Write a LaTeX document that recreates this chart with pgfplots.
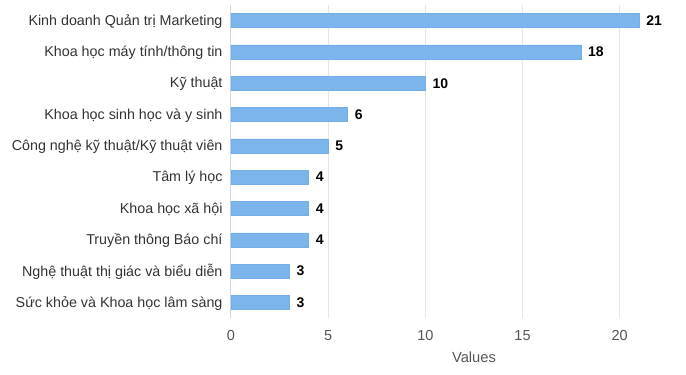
\documentclass[border=0pt]{standalone}
\usepackage{pgfplots}
\pgfplotsset{compat=1.18}
\usepackage{fontspec}
\setmainfont{Liberation Sans}
\definecolor{barfill}{HTML}{7CB5EC}
\definecolor{baredge}{HTML}{74AEE8}
\definecolor{gridc}{HTML}{E6E6E6}
\definecolor{axisc}{HTML}{CCD6EB}
\definecolor{labc}{HTML}{333333}
\definecolor{tickc}{HTML}{555555}
\begin{document}
\begin{tikzpicture}[x=1pt,y=1pt]
\path (0,0) rectangle (686,375);
\begin{axis}[
  at={(231pt,57pt)}, anchor=south west,
  scale only axis, width=447pt, height=313pt,
  xmin=0, xmax=23, ymin=-0.5, ymax=9.5, y dir=reverse,
  xbar, bar width=14pt,
  xtick={0,5,10,15,20},
  ytick={0,...,9},
  yticklabels={Kinh doanh Quản trị Marketing, Khoa học máy tính/thông tin, Kỹ thuật, Khoa học sinh học và y sinh, Công nghệ kỹ thuật/Kỹ thuật viên, Tâm lý học, Khoa học xã hội, Truyền thông Báo chí, Nghệ thuật thị giác và biểu diễn, Sức khỏe và Khoa học lâm sàng},
  axis y line*=left, axis x line*=bottom,
  x axis line style={draw=none},
  y axis line style={draw=axisc, line width=1pt, -},
  major tick length=0pt,
  xmajorgrids, grid style={gridc, line width=1pt},
  /pgf/number format/assume math mode=true,
  xticklabel style={font=\fontsize{14.5}{16}\selectfont, text=tickc, yshift=-9pt},
  yticklabel style={font=\fontsize{14.3}{17}\selectfont, text=labc, xshift=-5pt, yshift=-1pt},
  xlabel={Values},
  xlabel style={font=\fontsize{14.7}{16}\selectfont, text=tickc, xshift=19.5pt, yshift=-4pt},
  nodes near coords,
  every node near coord/.append style={font=\bfseries\fontsize{14}{15}\selectfont, text=black, anchor=west, inner sep=0pt, xshift=7pt},
  clip=false,
]
\addplot[fill=barfill, draw=baredge, line width=0.5pt] coordinates {
(21,0) (18,1) (10,2) (6,3) (5,4) (4,5) (4,6) (4,7) (3,8) (3,9)
};
\end{axis}
\end{tikzpicture}
\end{document}
